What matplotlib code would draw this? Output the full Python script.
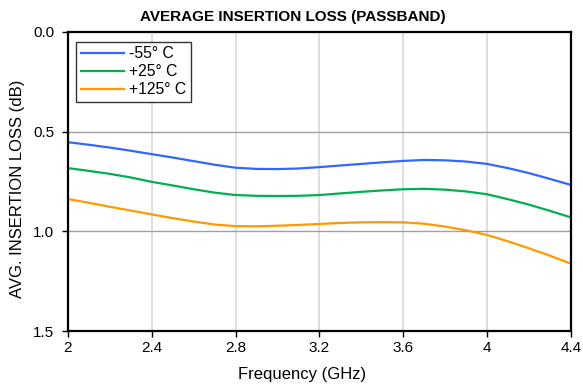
import matplotlib
matplotlib.use("Agg")
from matplotlib import pyplot as plt

plt.rcParams['font.family'] = ['Liberation Sans', 'DejaVu Sans']

freq = [2.0, 2.1, 2.2, 2.3, 2.4, 2.5, 2.6, 2.7, 2.8, 2.9, 3.0, 3.1, 3.2,
        3.3, 3.4, 3.5, 3.6, 3.7, 3.8, 3.9, 4.0, 4.1, 4.2, 4.3, 4.4]
loss_m55 = [0.553, 0.566, 0.580, 0.596, 0.613, 0.630, 0.648, 0.666, 0.681,
            0.687, 0.688, 0.685, 0.678, 0.670, 0.662, 0.654, 0.647, 0.642,
            0.644, 0.650, 0.662, 0.683, 0.708, 0.737, 0.767]
loss_p25 = [0.683, 0.697, 0.712, 0.730, 0.752, 0.770, 0.789, 0.806, 0.818,
            0.822, 0.823, 0.822, 0.818, 0.810, 0.802, 0.795, 0.789, 0.787,
            0.791, 0.800, 0.814, 0.839, 0.866, 0.897, 0.930]
loss_p125 = [0.838, 0.857, 0.877, 0.896, 0.915, 0.934, 0.951, 0.966, 0.974,
             0.975, 0.972, 0.968, 0.963, 0.958, 0.955, 0.954, 0.955, 0.962,
             0.976, 0.995, 1.018, 1.050, 1.085, 1.122, 1.162]
labels = ["-55° C", "+25° C", "+125° C"]
colors = ["#3366ff", "#00b050", "#ff9900"]

xticks = [2, 2.4, 2.8, 3.2, 3.6, 4, 4.4]
xtick_labels = ["2", "2.4", "2.8", "3.2", "3.6", "4", "4.4"]
yticks = [0.0, 0.5, 1.0, 1.5]

fig = plt.figure(figsize=(5.83, 3.89), dpi=100)
ax = fig.add_axes([0.1166, 0.149, 0.8624, 0.769])

for series, lab, col in zip([loss_m55, loss_p25, loss_p125], labels, colors):
    ax.plot(freq, series, color=col, lw=1.6, label=lab)

ax.set_xlim(2, 4.4)
ax.set_ylim(1.5, 0.0)
ax.set_xticks(xticks)
ax.set_xticklabels(xtick_labels)
ax.set_yticks(yticks)
ax.set_yticklabels(["%.1f" % v for v in yticks])

# vertical grid light, horizontal grid darker
for xv in xticks[1:-1]:
    ax.axvline(xv, color="#d9d9d9", lw=1.2, zorder=0)
for yv in yticks[1:-1]:
    ax.axhline(yv, color="#a0a0a0", lw=1.0, zorder=0)

for s in ax.spines.values():
    s.set_linewidth(1.6)
    s.set_color("black")

ax.tick_params(axis="both", labelsize=11, direction="out", length=4, width=1)
ax.tick_params(axis="y", pad=6)
ax.set_xlabel("Frequency (GHz)", fontsize=12, va="center")
ax.xaxis.set_label_coords(0.465, -0.145)
ax.set_ylabel("AVG. INSERTION LOSS (dB)", fontsize=12, va="center")
ax.yaxis.set_label_coords(-0.101, 0.475)
fig.text(0.5026, 0.956, "AVERAGE INSERTION LOSS (PASSBAND)", fontsize=11,
         fontweight="bold", ha="center", va="center")

leg = ax.legend(loc="upper left", fontsize=11.3, frameon=True, fancybox=False,
                handlelength=2.75, handletextpad=0.35, borderpad=0.3,
                labelspacing=0.18, borderaxespad=0,
                bbox_to_anchor=(0.016, 0.967))
leg.get_frame().set_edgecolor("black")
leg.get_frame().set_linewidth(1.0)

plt.savefig("out.png", dpi=100)
plt.close()
